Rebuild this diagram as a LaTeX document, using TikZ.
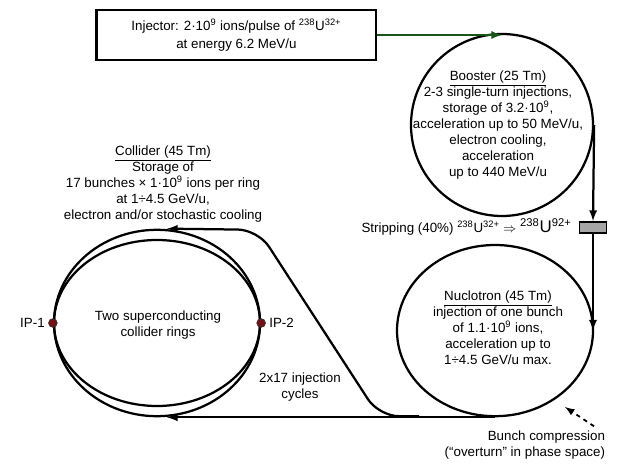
\documentclass[tikz,border=0pt]{standalone}
\usepackage{fontspec}
\setmainfont{Liberation Sans}
\usetikzlibrary{shapes.geometric, arrows, positioning, calc}
\definecolor{ipred}{RGB}{110,20,25}
\definecolor{injgreen}{RGB}{25,85,25}

\begin{document}
\begin{tikzpicture}[>=latex,
    ring/.style={draw, line width=1.6pt, inner sep=0pt},
    info/.style={align=center, font=\fontsize{9.5}{11.3}\selectfont},
    beam/.style={line width=1.6pt, ->}]
\useasboundingbox (0,0) rectangle (15.45,11.575);

% Injector
\node[draw, line width=2pt, minimum width=6.975cm, minimum height=1.25cm, info,
      font=\fontsize{9.5}{12.2}\selectfont] (injector) at (5.91,10.7)
    {Injector: 2·10\textsuperscript{9} ions/pulse of \textsuperscript{238}U\textsuperscript{32+}\\at energy 6.2 MeV/u};

% Booster
\node[ring, circle, minimum size=4.55cm] (booster) at (12.55,8.45) {};
\node[info] (boostertxt) at (12.45,8.45)
    {\underline{Booster (25 Tm)}\\2-3 single-turn injections,\\storage of 3.2·10\textsuperscript{9},\\
     acceleration up to 50 MeV/u,\\electron cooling,\\acceleration\\up to 440 MeV/u};
\draw[beam, injgreen] (injector.east) -- (injector.east -| booster.north);

% Stripping
\node[draw, fill=gray!70, line width=1.3pt, minimum width=0.675cm, minimum height=0.275cm,
      inner sep=0pt] (stripper) at (14.825,5.89) {};
\node[info, left=0.05cm of stripper] (striptxt)
    {Stripping (40\%) \textsuperscript{238}U\textsuperscript{32+} $\Rightarrow$
     {\large\textsuperscript{238}U\textsuperscript{92+}}};
\draw[beam] (booster.east) -- (stripper.north);

% Nuclotron
\node[ring, ellipse, minimum width=4.9cm, minimum height=4.28cm] (nuclotron) at (12.375,3.31) {};
\node[info] (nuclotrontxt) at (12.45,3.38)
    {\underline{Nuclotron (45 Tm)}\\injection of one bunch\\of 1.1·10\textsuperscript{9} ions,\\
     acceleration up to\\1÷4.5 GeV/u max.};
\draw[beam] (stripper.south) -- (stripper.south |- nuclotron.east);

% Bunch compression
\node[info, align=right, anchor=east] (bunch) at (15.25,0.44)
    {Bunch compression\\(“overturn” in phase space)};
\coordinate (bunchtip) at (14.125,1.4);
\draw[dashed, line width=1.3pt, ->] ([xshift=-0.4cm]bunch.north east) -- (bunchtip);

% Collider
\node[ring, ellipse, minimum width=5.15cm, minimum height=4.66cm] (collider) at (3.925,3.5) {};
\node[ring, ellipse, minimum width=5.15cm, minimum height=4.15cm] (colliderin) at (collider.center) {};
\node[info] (ringtxt) at (3.95,3.45) {Two superconducting\\collider rings};
\node[info] (collidertxt) at (4.075,6.975)
    {\underline{Collider (45 Tm)}\\Storage of\\17 bunches × 1·10\textsuperscript{9} ions per ring\\
     at 1÷4.5 GeV/u,\\electron and/or stochastic cooling};
\foreach \side/\pos/\lab in {west/left/IP-1, east/right/IP-2} {
    \filldraw[ipred, draw=black!80] (collider.\side) circle (0.11);
    \node[info, \pos=0.08cm of collider.\side] (ip-\side) {\lab};
}

% Transfer lines
\coordinate (merge) at (9.475,1.17);
\coordinate (bend) at (6.45,5.83);
\draw[beam] (nuclotron.south) -- ([xshift=0.25cm]collider.south);
\draw[beam, rounded corners=0.5cm] ([xshift=1cm]merge) -- (merge) -- (bend)
    -- ([xshift=0.25cm]collider.north);
\node[info] (cycles) at (7.5,1.9) {2x17 injection\\cycles};
\end{tikzpicture}
\end{document}
